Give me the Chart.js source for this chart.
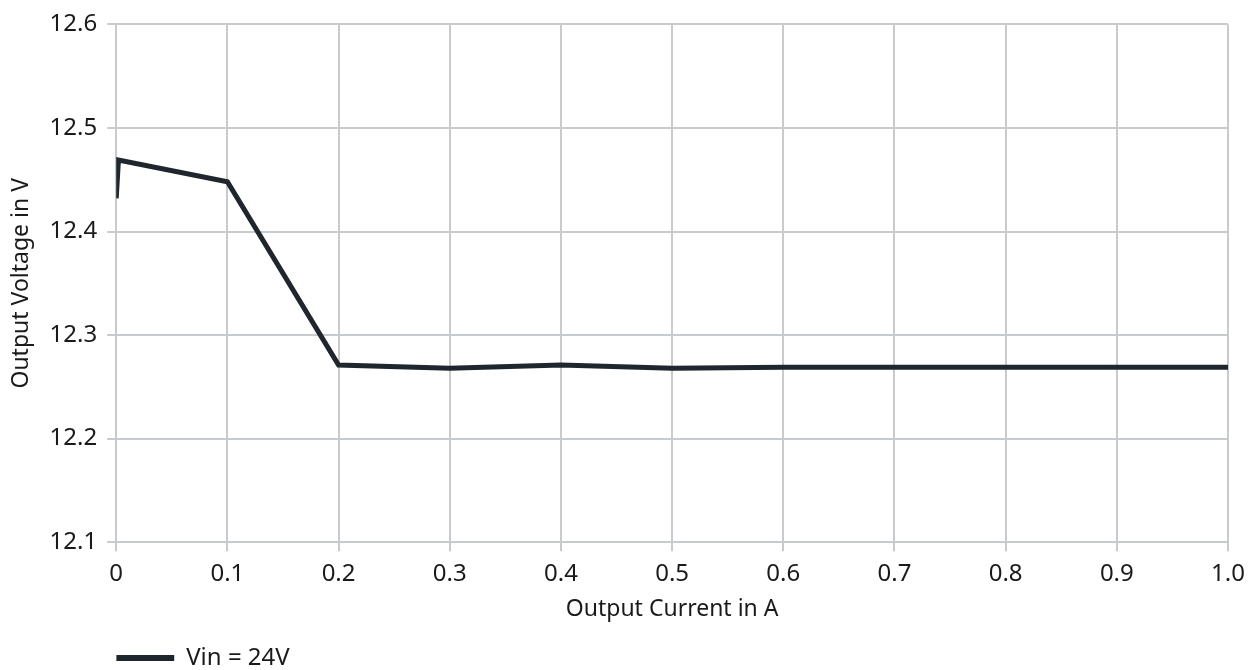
<!DOCTYPE html>
<html>
<head>
<meta charset="utf-8">
<script src="https://cdn.jsdelivr.net/npm/chart.js@4/dist/chart.umd.min.js"></script>
<style>
  html, body { margin: 0; padding: 0; background: #fff; }
  #wrap { width: 1255px; height: 670px; position: relative; }
</style>
</head>
<body>
<div id="wrap"><canvas id="chart"></canvas></div>
<script>
// valores
const currentA = [0, 0.002, 0.1, 0.2, 0.3, 0.4, 0.5, 0.6, 0.7, 0.8, 0.9, 1.0];
const voltageV = [12.432, 12.469, 12.448, 12.271, 12.268, 12.271, 12.268, 12.269, 12.269, 12.269, 12.269, 12.269];
const seriesLabel = "Vin = 24V";
const xTitle = "Output Current in A";
const yTitle = "Output Voltage in V";

const GRID = "#c8cbcd";
const INK = "#1a1a1a";
const LINE = "#1f262d";
const FONT = "'Noto Sans', 'Open Sans', sans-serif";

const points = currentA.map((x, i) => ({ x, y: voltageV[i] }));

const ctx = document.getElementById("chart").getContext("2d");
new Chart(ctx, {
  type: "line",
  data: {
    datasets: [
      {
        label: seriesLabel,
        data: points,
        borderColor: LINE,
        backgroundColor: LINE,
        borderWidth: 5,
        pointRadius: 0,
        tension: 0,
        fill: false,
      },
    ],
  },
  options: {
    responsive: true,
    maintainAspectRatio: false,
    animation: false,
    // bottom negativo para bajar la leyenda
    layout: { padding: { top: 10, right: 27, left: 2, bottom: -10 } },
    scales: {
      x: {
        type: "linear",
        min: 0,
        max: 1,
        grid: { color: GRID, lineWidth: 2, tickLength: 9 },
        border: { display: false },
        ticks: {
          stepSize: 0.1,
          color: INK,
          font: { family: FONT, size: 24 },
          padding: 9,
          callback: (v) => (v === 0 ? "0" : v.toFixed(1)),
        },
        title: {
          display: true,
          text: xTitle,
          color: INK,
          font: { family: FONT, size: 23, lineHeight: 1.0 },
          padding: { top: 0, bottom: 25 },
        },
      },
      y: {
        min: 12.1,
        max: 12.6,
        grid: { color: GRID, lineWidth: 2, tickLength: 9 },
        border: { display: false },
        ticks: {
          stepSize: 0.1,
          color: INK,
          font: { family: FONT, size: 24 },
          padding: 10,
          callback: (v) => v.toFixed(1),
        },
        title: {
          display: true,
          text: yTitle,
          color: INK,
          font: { family: FONT, size: 23 },
          padding: { top: 6, bottom: 4 },
        },
      },
    },
    plugins: {
      legend: {
        position: "bottom",
        align: "start",
        fullSize: false,
        labels: {
          boxWidth: 58,
          boxHeight: 6,
          color: INK,
          font: { family: FONT, size: 24 },
          padding: 0,
          generateLabels: (chart) =>
            Chart.defaults.plugins.legend.labels.generateLabels(chart).map((l) => ({ ...l, lineWidth: 0 })),
        },
      },
      tooltip: { enabled: false },
    },
  },
});
</script>
</body>
</html>
